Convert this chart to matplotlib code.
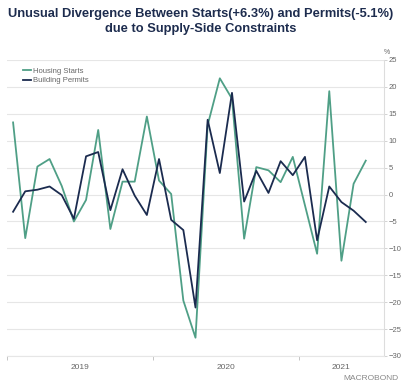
import numpy as np
import matplotlib.pyplot as plt

plt.rcParams['font.family'] = ['Liberation Sans', 'DejaVu Sans']

# monthly y/y %, Jan 2019 - Jun 2021
starts = [13.4, -8.1, 5.2, 6.6, 1.6, -5.0, -1.0, 12.0, -6.4, 2.4,
          2.4, 14.5, 2.6, 0.1, -19.7, -26.6, 12.9, 21.6, 17.8, -8.2,
          5.1, 4.5, 2.3, 7.0, -2.0, -11.0, 19.2, -12.3, 2.0, 6.3]
permits = [-3.2, 0.6, 0.9, 1.5, -0.1, -4.5, 7.1, 7.9, -2.9, 4.7,
           -0.2, -3.8, 6.6, -4.7, -6.6, -21.0, 13.9, 4.0, 18.9, -1.3,
           4.4, 0.3, 6.2, 3.6, 7.0, -8.5, 1.5, -1.4, -3.0, -5.1]
years = ["2019", "2020", "2021"]

green = "#4f9f86"
navy = "#1b2b4f"
grey = "#666666"

months = np.arange(len(starts)) + 0.5

fig = plt.figure(figsize=(4.01, 3.84), dpi=100)
ax = fig.add_axes([7/401, 28/384, 377/401, 296/384])

ax.plot(months, starts, color=green, lw=1.3, label="Housing Starts")
ax.plot(months, permits, color=navy, lw=1.3, label="Building Permits")

ax.set_xlim(0, 31)
ax.set_ylim(-30, 25)
ax.set_yticks(np.arange(-30, 26, 5))
ax.yaxis.tick_right()
ax.tick_params(axis="y", length=2, width=0.6, color="#cccccc", labelsize=5.5,
               labelcolor=grey, pad=1.5)
ax.grid(axis="y", color="#e6e6e6", lw=0.8)
ax.set_axisbelow(True)

ax.set_xticks([0, 12, 24])
ax.set_xticklabels([])
ax.set_xticks([6, 18, 27.5], minor=True)
ax.set_xticklabels(years, minor=True)
ax.tick_params(axis="x", which="major", length=3, width=0.6, color="#bbbbbb", direction="out")
ax.tick_params(axis="x", which="minor", length=0, labelsize=6, labelcolor=grey, pad=6)

for s in ["left", "top"]:
    ax.spines[s].set_visible(False)
ax.spines["right"].set_color("#dddddd")
ax.spines["right"].set_linewidth(0.8)
ax.spines["bottom"].set_color("#e6e6e6")
ax.spines["bottom"].set_linewidth(0.8)

ax.text(1.0, 1.012, "%", transform=ax.transAxes, fontsize=5, color=grey, ha="left", va="bottom")

leg = ax.legend(loc="upper left", bbox_to_anchor=(0.035, 0.985), frameon=False,
                fontsize=5.5, handlelength=1.0, handletextpad=0.3, labelspacing=0.3,
                borderaxespad=0)
for t in leg.get_texts():
    t.set_color(grey)

fig.text(0.5, 0.978, "Unusual Divergence Between Starts(+6.3%) and Permits(-5.1%)\ndue to Supply-Side Constraints",
         ha="center", va="top", fontsize=9.3, fontweight="bold", color="#1d2c4e",
         linespacing=1.25)

fig.text(0.993, 0.006, "MACROBOND", ha="right", va="bottom", fontsize=6, color="#888888")

fig.savefig("out.png", dpi=100)
